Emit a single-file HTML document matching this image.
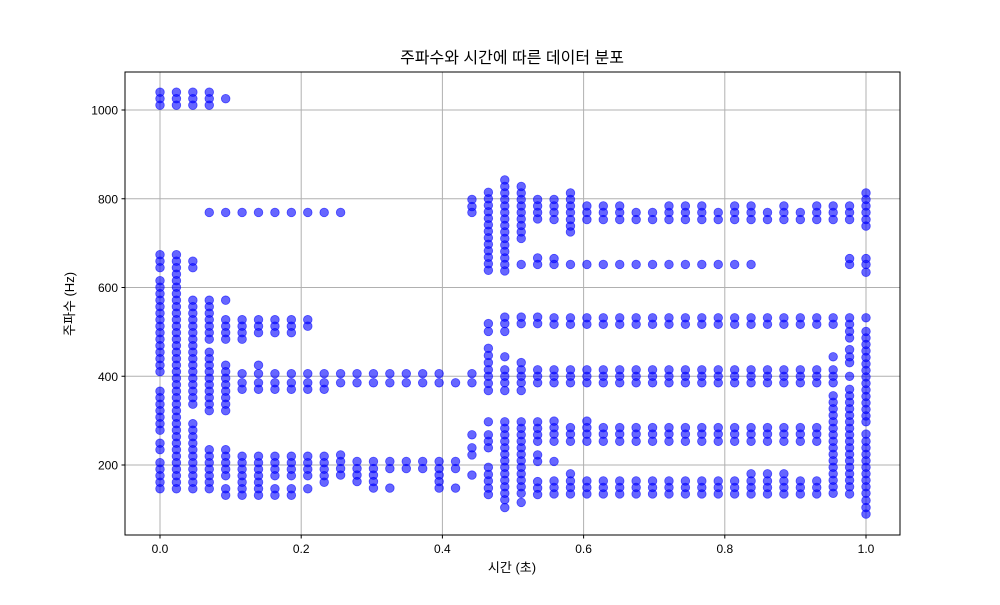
<!DOCTYPE html>
<html><head><meta charset="utf-8">
<style>
body{margin:0;background:#fff;}
svg text{font-family:"Liberation Sans","Noto Sans CJK KR",sans-serif;fill:#000;}
</style></head>
<body>
<svg id="chart" width="1000" height="600" viewBox="0 0 1000 600" xmlns="http://www.w3.org/2000/svg">
<rect x="0" y="0" width="1000" height="600" fill="#fff"/>
<g id="grid"></g>
<g id="pts"></g>
<rect x="125" y="72" width="775" height="463" fill="none" stroke="#000" stroke-width="1"/>
<g id="axes"></g>
<text x="512" y="63" font-size="16" text-anchor="middle">주파수와 시간에 따른 데이터 분포</text>
<text x="512" y="572" font-size="13" text-anchor="middle">시간 (초)</text>
<text x="0" y="0" font-size="13" text-anchor="middle" transform="translate(74,304) rotate(-90)">주파수 (Hz)</text>
</svg>
<script>
const xTicks = [0, 0.2, 0.4, 0.6, 0.8, 1.0];
const xTickLabels = ["0.0", "0.2", "0.4", "0.6", "0.8", "1.0"];
const yTicks = [200, 400, 600, 800, 1000];
const yTickLabels = ["200", "400", "600", "800", "1000"];
const BIN_HZ = 14.65;
const numColumns = 44;
const col0 = [71,70,69,46,45,44,42,41,40,39,38,37,36,35,34,33,32,31,30,29,28,25,24,23,22,21,20,19,17,16,14,13,12,11,10];
const col1 = [71,70,69,46,45,44,43,42,41,40,39,38,37,36,35,34,33,32,31,30,29,28,27,26,25,24,23,22,21,20,19,18,17,16,15,14,13,12,11,10];
const col2 = [71,70,69,45,44,39,38,37,36,35,34,33,32,31,30,29,28,27,26,25,24,23,20,19,18,17,16,15,14,13,12,11,10];
const col3 = [71,70,69,52.5,39,38,37,36,35,34,33,31,30,29,28,27,26,25,24,23,22,16,15,14,13,12,11,10];
const col4 = [70,52.5,39,36,35,34,33,29,28,27,26,25,24,23,22,16,15,14,13,12,10,9];
const col5 = [52.5,36,35,34,33,27.7,26.3,25.3,15,14,13,12,11,10,9];
const col6 = [52.5,36,35,34,29,27.7,26.3,25.3,15,14,13,12,11,10,9];
const col7 = [52.5,36,35,34,27.7,26.3,25.3,15,14,13,12,10,9];
const col8 = [52.5,36,35,34,27.7,26.3,25.3,15,14,13,12,10,9];
const col9 = [52.5,36,35,27.7,26.3,25.3,15,14,13,12,10];
const col10 = [52.5,27.7,26.3,25.3,15,14,13,12,11];
const col11 = [52.5,27.7,26.3,15.2,14.2,13.1,12.1];
const col12 = [27.7,26.3,14.2,13.1,12.1,11.1];
const col13 = [27.7,26.3,14.2,13.1,12.1,11.1,10.1];
const col14 = [27.7,26.3,14.2,13.1,10.1];
const col15 = [27.7,26.3,14.2,13.1];
const col16 = [27.7,26.3,14.2,13.1];
const col17 = [27.7,26.3,14.2,13.1,12.1,11.1,10.1];
const col18 = [26.3,14.2,13.1,10.1];
const col19 = [54.5,53.4,52.5,27.7,26.3,18.3,16.3,15.2,12.1];
const col20 = [55.6,54.6,53.6,52.6,51.6,50.6,49.6,48.6,47.6,46.6,45.6,44.6,43.6,35.4,34.2,31.6,30.5,29.4,28.3,27.3,26.2,25.1,20.3,18.3,17.3,16.3,13.3,12.2,11.2,10.1,9.1];
const col21 = [57.5,56.5,55.5,54.5,53.5,52.5,51.5,50.5,49.5,48.5,47.5,46.5,45.5,44.5,43.5,36.4,35.4,34.2,30.3,28.3,27.3,26.3,25.1,20.3,19.3,18.3,17.3,16.3,15.3,14.3,13.3,12.3,11.3,10.3,9.3,8.3,7.1];
const col22 = [56.5,55.5,54.5,53.5,52.5,51.5,50.5,49.5,48.5,44.5,36.4,35.4,29.4,28.3,27.3,26.3,25.1,20.3,19.3,18.3,17.3,16.3,15.3,14.3,13.3,12.3,11.3,10.3,9.3,7.9];
const col23 = [54.5,53.5,52.5,51.5,45.5,44.5,36.4,35.4,28.3,27.3,26.3,20.3,19.3,18.3,17.3,15.2,14.2,11.1,10.1,9.1];
const col24 = [54.5,53.5,52.5,51.4,45.4,44.5,36.3,35.3,28.3,27.3,26.3,20.4,19.4,18.4,17.3,14.2,11.2,10.2,9.2];
const col25 = [55.5,54.5,53.5,52.5,51.4,50.4,49.5,44.5,36.3,35.3,28.3,27.3,26.3,19.4,18.4,17.3,12.3,11.2,10.2,9.2];
const col26 = [53.5,52.5,51.4,44.5,36.3,35.3,28.3,27.3,26.3,20.4,19.4,18.4,17.3,11.2,10.2,9.2];
const col27 = [53.5,52.5,51.4,44.5,36.3,35.3,28.3,27.3,26.3,19.4,18.4,17.3,11.2,10.2,9.2];
const col28 = [53.5,52.5,51.4,44.5,36.3,35.3,28.3,27.3,26.3,19.4,18.4,17.3,11.2,10.2,9.2];
const col29 = [52.5,51.4,44.5,36.3,35.3,28.3,27.3,26.3,19.4,18.4,17.3,11.2,10.2,9.2];
const col30 = [52.5,51.4,44.5,36.3,35.3,28.3,27.3,26.3,19.4,18.4,17.3,11.2,10.2,9.2];
const col31 = [53.5,52.5,51.4,44.5,36.3,35.3,28.3,27.3,26.3,19.4,18.4,17.3,11.2,10.2,9.2];
const col32 = [53.5,52.5,51.4,44.5,36.3,35.3,28.3,27.3,26.3,19.4,18.4,17.3,11.2,10.2,9.2];
const col33 = [53.5,52.5,51.4,44.5,36.3,35.3,28.3,27.3,26.3,19.4,18.4,17.3,11.2,10.2,9.2];
const col34 = [52.5,51.4,44.5,36.3,35.3,28.3,27.3,26.3,19.4,18.4,17.3,11.2,10.2,9.2];
const col35 = [53.5,52.5,51.4,44.5,36.3,35.3,28.3,27.3,26.3,19.4,18.4,17.3,11.2,10.2,9.2];
const col36 = [53.5,52.5,51.4,44.5,36.3,35.3,28.3,27.3,26.3,19.4,18.4,17.3,12.3,11.2,10.2,9.2];
const col37 = [52.5,51.4,36.3,35.3,28.3,27.3,26.3,19.4,18.4,17.3,12.3,11.2,10.2,9.2];
const col38 = [53.5,52.5,51.4,36.3,35.3,28.3,27.3,26.3,19.4,18.4,17.3,12.3,11.2,10.2,9.2];
const col39 = [52.5,51.4,36.3,35.3,28.3,27.3,26.3,19.4,18.4,17.3,11.2,10.2,9.2];
const col40 = [53.5,52.5,51.4,36.3,35.3,28.3,27.3,26.3,19.4,18.4,17.3,11.2,10.2,9.2];
const col41 = [53.5,52.5,51.4,36.3,35.3,30.3,28.3,27.3,26.3,24.3,23.3,22.3,21.3,20.3,19.3,18.3,17.3,16.3,15.3,14.3,13.3,12.3,11.3,10.3,9.3];
const col42 = [53.5,52.5,51.4,45.4,44.5,36.3,35.3,34.2,33.2,31.4,30.3,29.4,27.3,25.3,24.3,23.3,22.3,21.3,20.3,19.3,18.3,17.3,16.3,15.3,14.3,13.3,12.3,11.3,10.3,9.2];
const col43 = [55.5,54.5,53.5,52.5,51.4,50.4,45.4,44.5,43.3,36.3,34.2,33.2,32.2,31.2,30.2,29.2,28.2,27.2,26.2,25.2,24.2,23.2,22.2,21.2,20.3,18.4,17.3,16.3,15.3,14.3,13.3,12.3,11.3,10.3,9.3,8.2,7.1,6.1];
const columns = [col0,col1,col2,col3,col4,col5,col6,col7,col8,col9,col10,col11,col12,col13,col14,col15,col16,col17,col18,col19,col20,col21,col22,col23,col24,col25,col26,col27,col28,col29,col30,col31,col32,col33,col34,col35,col36,col37,col38,col39,col40,col41,col42,col43];

const NS = "http://www.w3.org/2000/svg";
function xScale(t){ return 160 + t * 706; }
function yScale(f){ return 553.75 - f * 0.44375; }
const grid = document.getElementById('grid');
const axes = document.getElementById('axes');
const pts = document.getElementById('pts');
function mk(tag, attrs, parent){ const e = document.createElementNS(NS, tag); for (const k in attrs) e.setAttribute(k, attrs[k]); parent.appendChild(e); return e; }

xTicks.forEach((v, i) => {
  const x = xScale(v);
  const g = mk('line', {x1:x, x2:x, y1:72, y2:535, stroke:'#b0b0b0', 'stroke-width':1}, grid);
  
  
  const t = mk('line', {x1:x, x2:x, y1:535, y2:538.5, stroke:'#000', 'stroke-width':1}, axes);
  
  
  const l = mk('text', {x:x, y:553, 'font-size':12, 'text-anchor':'middle'}, axes);
  l.textContent = xTickLabels[i];
  
  
});
yTicks.forEach((v, i) => {
  const y = yScale(v);
  const g = mk('line', {x1:125, x2:900, y1:y, y2:y, stroke:'#b0b0b0', 'stroke-width':1}, grid);
  
  
  const t = mk('line', {x1:121.5, x2:125, y1:y, y2:y, stroke:'#000', 'stroke-width':1}, axes);
  
  
  const l = mk('text', {x:118, y:y + 4.5, 'font-size':12, 'text-anchor':'end'}, axes);
  l.textContent = yTickLabels[i];
  
  
});
columns.forEach((bins, i) => {
  const t = i / (numColumns - 1);
  bins.forEach(b => {
    const c = mk('circle', {cx:xScale(t), cy:yScale(b * BIN_HZ), r:4.3, fill:'rgba(0,0,255,0.6)', stroke:'rgba(0,0,255,0.6)', 'stroke-width':0.8}, pts);
    
    
  });
});
</script>
</body></html>
